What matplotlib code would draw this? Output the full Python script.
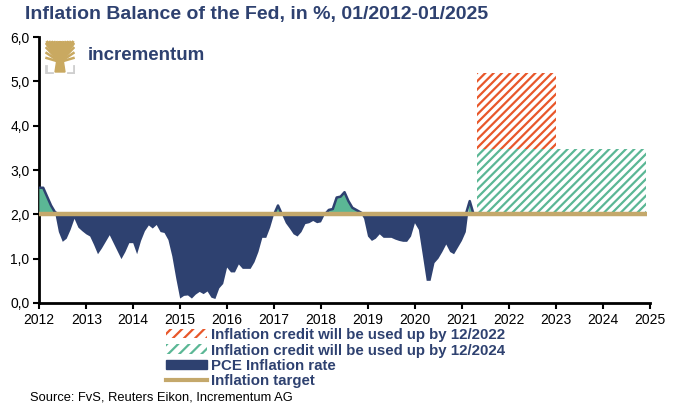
import numpy as np
import matplotlib
matplotlib.use("Agg")
import matplotlib.pyplot as plt
from matplotlib.patches import Patch, Polygon
from matplotlib.lines import Line2D

# ---------------------------------------------------------
# Data (monthly PCE inflation, Jan 2012 - Apr 2021)
# ---------------------------------------------------------
pce = [
    2.6, 2.6, 2.4, 2.2, 2.05, 1.6, 1.38, 1.45, 1.65, 1.9, 1.7, 1.62,    # 2012
    1.55, 1.5, 1.31, 1.1, 1.23, 1.38, 1.53, 1.35, 1.17, 0.99, 1.15, 1.35,  # 2013
    1.35, 1.1, 1.4, 1.62, 1.75, 1.68, 1.76, 1.6, 1.58, 1.42, 1.05, 0.55,  # 2014
    0.1, 0.16, 0.17, 0.1, 0.19, 0.25, 0.2, 0.26, 0.12, 0.09, 0.33, 0.43,  # 2015
    0.8, 0.69, 0.69, 0.87, 0.77, 0.77, 0.77, 0.92, 1.15, 1.47, 1.47, 1.7,  # 2016
    2.0, 2.2, 2.0, 1.8, 1.68, 1.55, 1.5, 1.6, 1.78, 1.8, 1.85, 1.8,     # 2017
    1.82, 2.0, 2.1, 2.12, 2.38, 2.4, 2.5, 2.3, 2.15, 2.1, 2.05, 1.9,    # 2018
    1.5, 1.4, 1.45, 1.55, 1.47, 1.47, 1.47, 1.43, 1.4, 1.38, 1.38, 1.5,  # 2019
    1.8, 1.65, 1.08, 0.5, 0.5, 0.9, 1.0, 1.15, 1.32, 1.15, 1.1, 1.25,   # 2020
    1.4, 1.6, 2.3, 2.0,                                                  # 2021
]
start_year = 2012
target = 2.0
target_end = 2024.94

# inflation credit boxes: (start, end, top)
credit_2022 = (2021.33, 2023.0, 5.2)
credit_2024 = (2021.33, 2024.92, 3.47)

years = list(range(2012, 2026))
yticks = [0, 1, 2, 3, 4, 5, 6]

legend_labels = [
    "Inflation credit will be used up by 12/2022",
    "Inflation credit will be used up by 12/2024",
    "PCE Inflation rate",
    "Inflation target",
]

navy = "#2E4170"
green = "#5BB795"
orange = "#E8572A"
gold = "#C4A86B"
logo_gold = "#C9A961"

plt.rcParams["font.family"] = ["Liberation Sans", "DejaVu Sans"]
plt.rcParams["hatch.linewidth"] = 1.6

x = start_year + np.arange(len(pce)) / 12
y = np.array(pce)

fig = plt.figure(figsize=(6.74, 4.12), dpi=100)
ax = fig.add_axes([0.0583, 0.2646, 0.9057, 0.6454])

# credit boxes
s, e, top = credit_2022
ax.fill_between([s, e], target, top, facecolor="white", edgecolor=orange,
                hatch="////", linewidth=0, zorder=1)
s, e, top = credit_2024
ax.fill_between([s, e], target, top, facecolor="white", edgecolor=green,
                hatch="////", linewidth=0, zorder=2)

# PCE against target
ax.fill_between(x, y, target, where=y <= target, interpolate=True,
                color=navy, linewidth=0, zorder=3)
ax.fill_between(x, y, target, where=y >= target, interpolate=True,
                color=green, linewidth=0, zorder=3)
ax.plot(x, np.maximum(y, target), color=navy, lw=1.8, zorder=4)
ax.plot([start_year, target_end], [target, target], color=gold, lw=3.2,
        solid_capstyle="butt", zorder=5)

ax.set_xlim(2012, 2025)
ax.set_ylim(0, 6)
ax.set_xticks(years)
ax.set_xticklabels([str(v) for v in years])
ax.set_yticks(yticks)
ax.set_yticklabels([f"{v:.1f}".replace(".", ",") for v in yticks])
ax.tick_params(labelsize=10, width=1.5, length=4, direction="out", pad=3,
               colors="black")
for side in ["top", "right"]:
    ax.spines[side].set_visible(False)
for side in ["left", "bottom"]:
    ax.spines[side].set_linewidth(2)

# title
fig.text(25 / 674, 1 - 15 / 412, "Inflation Balance of the Fed, in %, 01/2012-01/2025",
         fontsize=14, fontweight="bold", color=navy,
         va="center", ha="left")

# logo
lax = fig.add_axes([45 / 674, 1 - 74 / 412, 30 / 674, 34 / 412])
lax.set_xlim(0, 30)
lax.set_ylim(0, 34)
lax.axis("off")
lax.add_patch(Polygon([[10, 2], [20, 2], [18, 15], [12, 15]], color=logo_gold))
for tx in np.linspace(1.5, 28.5, 12):
    lax.plot([15, tx], [12, 33], color=logo_gold, lw=2.0, solid_capstyle="butt")
for ty in [16, 21, 26, 30]:
    lax.plot([15, 1.5], [12, ty], color=logo_gold, lw=1.8)
    lax.plot([15, 28.5], [12, ty], color=logo_gold, lw=1.8)
lax.plot([1, 1, 7], [8, 0.8, 0.8], color="#CFCFCF", lw=2)
lax.plot([29, 29, 23], [8, 0.8, 0.8], color="#CFCFCF", lw=2)
fig.text(88 / 674, 1 - 56 / 412, "incrementum", fontsize=13.5, fontweight="bold",
         color=navy, va="center", ha="left")

# legend
handles = [
    Patch(facecolor="white", edgecolor=orange, hatch="///", linewidth=0),
    Patch(facecolor="white", edgecolor=green, hatch="///", linewidth=0),
    Patch(facecolor=navy, edgecolor=navy),
    Line2D([0], [0], color=gold, lw=3),
]
fig.legend(handles, legend_labels, loc="upper left",
           bbox_to_anchor=(166 / 674, 1 - 328 / 412), frameon=False,
           prop={"weight": "bold", "size": 10.8},
           labelcolor=navy, handlelength=2.7, handleheight=0.6,
           handletextpad=0.3, labelspacing=0.1, borderpad=0,
           borderaxespad=0)

fig.text(30 / 674, 1 - 397 / 412, "Source: FvS, Reuters Eikon, Incrementum AG",
         fontsize=9.3, color="black", va="center", ha="left")

fig.savefig("out.png", dpi=100)
